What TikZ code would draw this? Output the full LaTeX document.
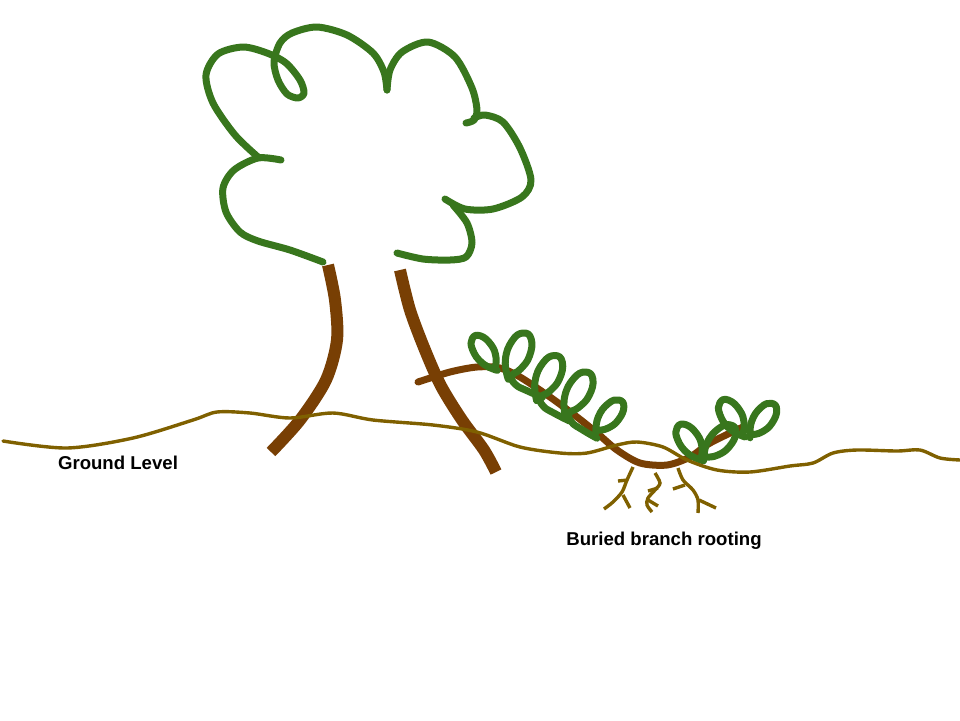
\documentclass[tikz,border=0pt]{standalone}
\usepackage{fontspec}
\setmainfont{Liberation Sans}
\usetikzlibrary{
    calc,
    positioning
}
\definecolor{leafgreen}{HTML}{38761D}
\definecolor{barkbrown}{HTML}{783F04}
\definecolor{soilolive}{HTML}{7F6000}
\tikzset{
    every picture/.style = {
        x = 0.5pt,
        y = -0.5pt
    },
    canopy/.style = {
        draw = leafgreen,
        line width = 3.5pt,
        line cap = round,
        line join = round
    },
    trunk/.style = {
        draw = barkbrown,
        line width = 6pt
    },
    branch/.style = {
        draw = barkbrown,
        line width = 3.5pt,
        line cap = round
    },
    ground/.style = {
        draw = soilolive,
        line width = 1.7pt,
        line cap = round
    },
    rootline/.style = {
        draw = soilolive,
        line width = 1.7pt
    },
    caption/.style = {
        font = \fontsize{9.3}{11}\selectfont\bfseries,
        inner sep = 0pt
    },
    leaf/.pic = {
        \draw[canopy] plot[smooth, tension = 0.8] coordinates {
            (-7,8) (-10,-8) (-5,-24) (4,-31) (11,-26) (10,-12) (3,-1) (-5,4)
        };
    },
    curl/.pic = {
        \draw[canopy] plot[smooth, tension = 0.8] coordinates {
            (-7,8) (-10,-8) (-5,-24) (4,-31) (11,-26) (10,-12) (3,-1) (-4,5) (-1,12) (9,17) (22,22)
        };
    }
}

\begin{document}
\begin{tikzpicture}
    \useasboundingbox (0,0) rectangle (960,720);
    % trunks
    \draw[trunk] plot[smooth] coordinates {(328,265) (335,300) (337,340) (326,380) (300,420) (271,452)};
    \draw[trunk] plot[smooth] coordinates {(400,270) (410,310) (425,350) (441,386) (462,420) (484,450) (496,472)};
    % crown
    \draw[canopy] plot[smooth] coordinates {(323,262) (290,250) (258,241) (240,232) (226,212) (223,188) (234,170) (258,158) (281,160)};
    \draw[canopy] plot[smooth] coordinates {(258,157) (235,135) (213,103) (206,75) (218,54) (243,47) (267,53) (286,63) (300,80) (304,93) (298,98) (287,94) (278,80) (274,62) (280,43) (292,33) (317,27) (347,35) (373,53) (384,72) (387,90)};
    \draw[canopy] plot[smooth] coordinates {(387,90) (390,70) (402,52) (428,42) (455,57) (472,88) (477,110) (474,120) (466,123)};
    \draw[canopy] plot[smooth] coordinates {(474,118) (485,115) (503,122) (520,148) (531,180) (522,197) (493,209) (465,209) (445,199)};
    \draw[canopy] plot[smooth] coordinates {(453,205) (467,223) (472,243) (466,257) (450,260) (423,259) (397,253)};
    % layered branch
    \draw[branch] plot[smooth] coordinates {(418,382) (450,372) (477,367) (500,368) (520,377) (550,397) (577,417) (597,433) (617,450) (640,463) (667,465) (690,457) (710,443) (743,427)};
    % leaves
    \pic[rotate = 54] at (495,360) {leaf};
    \pic[rotate = -2, scale = 1.2] at (517,370) {curl};
    \pic[rotate = -6, scale = 1.2] at (546,392) {curl};
    \pic[rotate = -9, scale = 1.2] at (575,408) {curl};
    \pic[rotate = -19] at (605,428) {leaf};
    \pic[rotate = 54, scale = 1.05] at (701,450) {leaf};
    \pic[rotate = -22, scale = 1.1] at (714,455) {leaf};
    \pic[rotate = 52, scale = 1.05] at (743,426) {leaf};
    \pic[rotate = -16] at (759,432) {leaf};
    % roots
    \draw[rootline] plot[smooth] coordinates {(633,467) (627,480) (622,492) (613,502) (604,509)};
    \draw[rootline] (618,481) -- (628,480);
    \draw[rootline] (623,495) -- (630,508);
    \draw[rootline] plot[smooth] coordinates {(655,473) (660,483) (655,490) (648,498) (647,505) (652,512)};
    \draw[rootline] (648,491) -- (658,488);
    \draw[rootline] (648,500) -- (658,506);
    \draw[rootline] plot[smooth] coordinates {(678,468) (683,480) (693,490) (698,500) (698,513)};
    \draw[rootline] (673,489) -- (685,485);
    \draw[rootline] (699,500) -- (716,508);
    % ground level
    \draw[ground] plot[smooth] coordinates {(3,441) (67,448) (133,438) (193,420) (217,412) (250,413) (290,418) (333,413) (373,420) (433,425) (477,432) (520,447) (560,453) (587,453) (617,445) (637,442) (663,447) (687,460) (717,470) (750,472) (790,466) (813,463) (833,453) (857,450) (897,451) (920,450) (940,458) (960,460)};
    % labels
    \node[caption] (groundlabel) at (118,463) {Ground Level};
    \node[caption] (rootlabel) at (664,541) {Buried branch rooting};
\end{tikzpicture}
\end{document}
